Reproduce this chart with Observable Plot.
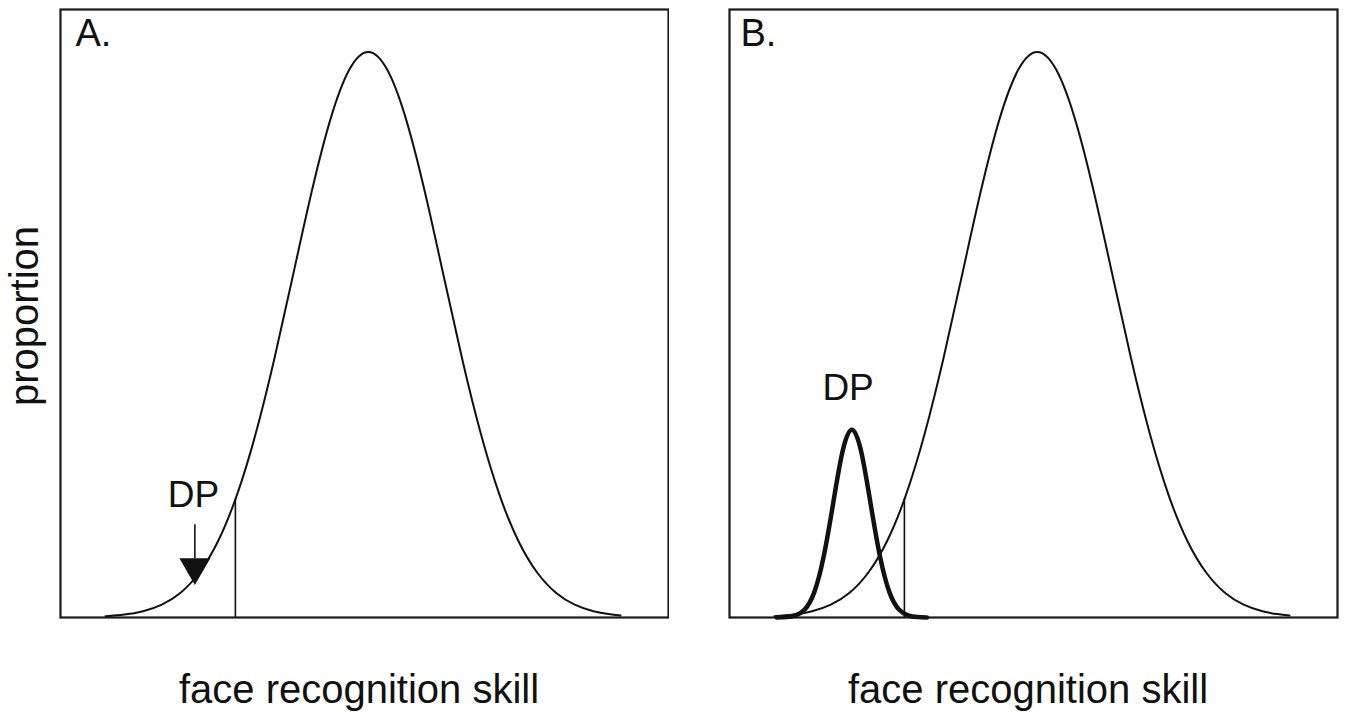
<!DOCTYPE html>
<html>
<head>
<meta charset="utf-8">
<script src="https://cdn.jsdelivr.net/npm/d3@7"></script>
<script src="https://cdn.jsdelivr.net/npm/@observablehq/plot@0.6"></script>
<style>
  html, body { margin: 0; padding: 0; background: #fff; }
  body { width: 1347px; height: 713px; position: relative; overflow: hidden;
         font-family: "Liberation Sans", Arial, Helvetica, sans-serif; color: #111; }
  .panel { position: absolute; top: 0; }
  .xlabel { position: absolute; top: 669px; width: 608px; text-align: center;
            font-size: 40px; line-height: 40px; white-space: nowrap; }
  .ylabel { position: absolute; width: 300px; text-align: center; font-size: 40px;
            line-height: 40px; left: -126px; top: 296px; transform: rotate(-90deg); white-space: nowrap; }
</style>
</head>
<body>
<div id="panelA" class="panel" style="left:0px"></div>
<div id="panelB" class="panel" style="left:669px"></div>
<div class="ylabel">proportion</div>
<div class="xlabel" style="left:55px">face recognition skill</div>
<div class="xlabel" style="left:724px">face recognition skill</div>
<script>
// Population distribution (skill in SD units, relative proportion)
const skillZ = [-3.5,-3.25,-3,-2.75,-2.5,-2.25,-2,-1.75,-1.5,-1.25,-1,-0.75,-0.5,-0.25,0,
                0.25,0.5,0.75,1,1.25,1.5,1.75,2,2.25,2.5,2.75,3,3.2,3.36];
const proportion = [0.0022,0.0051,0.0111,0.0228,0.0439,0.0796,0.1353,0.2163,0.3247,0.4578,0.6065,0.7548,0.8825,0.9692,1,
                    0.9692,0.8825,0.7548,0.6065,0.4578,0.3247,0.2163,0.1353,0.0796,0.0439,0.0228,0.0111,0.006,0.0035];
// DP distribution (panel B)
const dpSkillZ = [-3.47,-3.345,-3.22,-3.095,-2.97,-2.845,-2.72,-2.595,-2.47,
                  -2.345,-2.22,-2.095,-1.97,-1.845,-1.72,-1.595,-1.47];
const dpProportion = [0.0001,0.0007,0.0037,0.0146,0.0449,0.108,0.201,0.293,0.332,
                      0.293,0.201,0.108,0.0449,0.0146,0.0037,0.0007,0.0001];
// Cutoff line
const cutoffZ = [-1.77];
const cutoffTop = [0.209];
// Annotations
const panelLabels = ["A.", "B."];
const dpLabel = "DP";
const dpLabelA = {x: -2.33, y: 0.2155};
const dpLabelB = {x: -2.52, y: 0.4055};
const arrowA = {x: -2.31, y1: 0.104, y2: 0.164, head: 0.089};

const popData = skillZ.map((x, i) => ({x, y: proportion[i]}));
const dpData = dpSkillZ.map((x, i) => ({x, y: dpProportion[i]}));

function panel(label, labelDx, extra) {
  return Plot.plot({
    width: 673, height: 620,
    marginLeft: 60, marginRight: 5, marginTop: 9, marginBottom: 3,
    x: {domain: [-4.1, 4.0], axis: null},
    y: {domain: [0, 1.075], axis: null},
    style: {fontFamily: '"Liberation Sans", Arial, Helvetica, sans-serif', color: "#111", background: "white"},
    marks: [
      Plot.frame({stroke: "#1a1a1a", strokeWidth: 2.2}),
      Plot.line(popData, {x: "x", y: "y", stroke: "#111", strokeWidth: 2, curve: "natural"}),
      Plot.ruleX(cutoffZ, {x: d => d, y1: 0, y2: cutoffTop[0], stroke: "#111", strokeWidth: 1.6}),
      Plot.text([label], {frameAnchor: "top-left", dx: labelDx, dy: 10, textAnchor: "start", lineAnchor: "top", fontSize: 38, fill: "#111"}),
      ...extra
    ]
  });
}

const marksA = [
  Plot.ruleX([arrowA], {x: "x", y1: "y1", y2: "y2", stroke: "#111", strokeWidth: 1.6}),
  Plot.dot([arrowA], {x: "x", y: "head", symbol: "triangle", r: 11.5, rotate: 180, fill: "#111", stroke: "none"}),
  Plot.text([dpLabelA], {x: "x", y: "y", text: () => dpLabel, fontSize: 37, textAnchor: "middle", lineAnchor: "middle", fill: "#111"})
];
const marksB = [
  Plot.line(dpData, {x: "x", y: "y", stroke: "#111", strokeWidth: 4.5, curve: "natural"}),
  Plot.text([dpLabelB], {x: "x", y: "y", text: () => dpLabel, fontSize: 37, textAnchor: "middle", lineAnchor: "middle", fill: "#111"})
];

document.getElementById("panelA").append(panel(panelLabels[0], 15, marksA));
document.getElementById("panelB").append(panel(panelLabels[1], 11, marksB));
</script>
</body>
</html>
